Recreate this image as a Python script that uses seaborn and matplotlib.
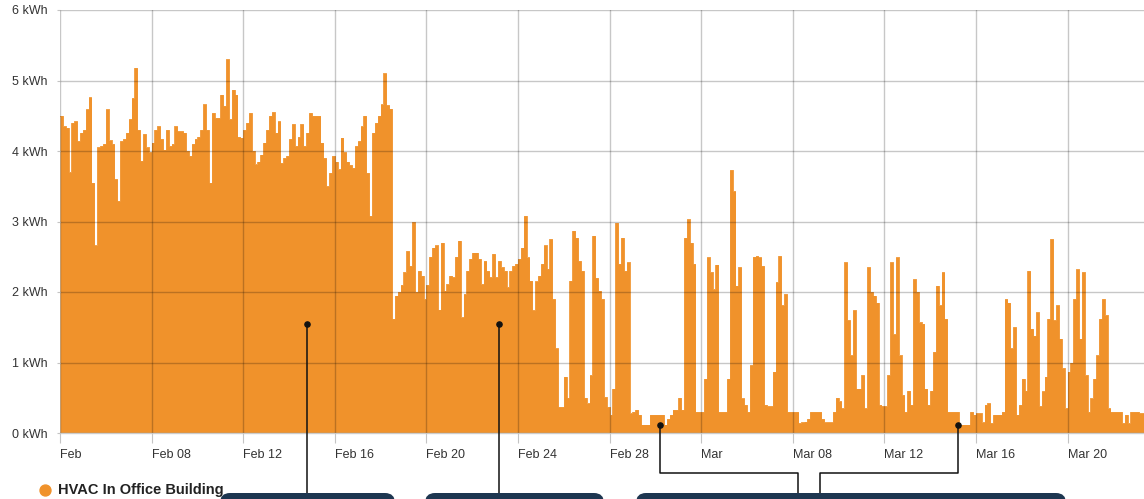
import numpy as np
import pandas as pd
import matplotlib
matplotlib.use("Agg")
import matplotlib.pyplot as plt
from matplotlib.patches import FancyBboxPatch
import seaborn as sns

# hourly-ish HVAC energy, one value per 3 hours (8 per day)
week1 = [  # Feb 04 - Feb 10
    4.5, 4.35, 4.33, 3.7, 4.4, 4.42, 4.14, 4.26,
    4.3, 4.59, 4.76, 3.55, 2.66, 4.05, 4.07, 4.1,
    4.59, 4.15, 4.1, 3.6, 3.29, 4.14, 4.17, 4.26,
    4.45, 4.75, 5.18, 4.3, 3.86, 4.24, 4.05, 3.98,
    4.12, 4.3, 4.35, 4.17, 4.02, 4.3, 4.07, 4.1,
    4.35, 4.28, 4.28, 4.26, 4.0, 3.93, 4.1, 4.17,
    4.2, 4.3, 4.66, 4.3, 3.55, 4.54, 4.47, 4.47,
]
week2 = [  # Feb 11 - Feb 17
    4.8, 4.64, 5.3, 4.45, 4.87, 4.8, 4.2, 4.19,
    4.3, 4.4, 4.54, 4.0, 3.81, 3.85, 3.95, 4.12,
    4.3, 4.5, 4.55, 4.26, 4.42, 3.83, 3.9, 3.93,
    4.17, 4.38, 4.07, 4.2, 4.38, 4.07, 4.26, 4.54,
    4.5, 4.5, 4.5, 4.12, 3.9, 3.5, 3.69, 3.93,
    3.85, 3.74, 4.19, 3.98, 3.85, 3.8, 3.76, 4.07,
    4.14, 4.35, 4.5, 3.69, 3.08, 4.26, 4.4, 4.5,
]
week3 = [  # Feb 18 - Feb 24
    4.66, 5.1, 4.65, 4.6, 1.62, 1.95, 2.0, 2.1,
    2.28, 2.58, 2.37, 2.99, 2.0, 2.3, 2.23, 1.9,
    2.1, 2.5, 2.63, 2.66, 1.75, 2.7, 2.02, 2.11,
    2.23, 2.21, 2.5, 2.73, 1.64, 1.97, 2.3, 2.47,
    2.56, 2.56, 2.47, 2.11, 2.44, 2.3, 2.21, 2.54,
    2.21, 2.44, 2.35, 2.3, 2.07, 2.3, 2.37, 2.4,
    2.47, 2.63, 3.08, 2.49, 2.16, 1.74, 2.15, 2.23,
]
week4 = [  # Feb 25 - Mar 03
    2.4, 2.66, 2.33, 2.75, 1.9, 1.2, 0.37, 0.37,
    0.8, 0.5, 2.16, 2.87, 2.77, 2.44, 2.3, 0.5,
    0.42, 0.82, 2.8, 2.2, 2.02, 1.9, 0.51, 0.37,
    0.26, 0.63, 2.98, 2.4, 2.77, 2.3, 2.42, 0.28,
    0.3, 0.33, 0.26, 0.12, 0.12, 0.12, 0.26, 0.26,
    0.26, 0.26, 0.26, 0.12, 0.2, 0.26, 0.33, 0.33,
    0.5, 0.33, 2.77, 3.03, 2.7, 2.4, 0.3, 0.3,
]
week5 = [  # Mar 04 - Mar 10
    0.3, 0.77, 2.49, 2.28, 2.04, 2.39, 0.3, 0.3,
    0.3, 0.77, 3.73, 3.43, 2.09, 2.35, 0.49, 0.4,
    0.3, 0.96, 2.5, 2.51, 2.49, 2.37, 0.4, 0.38,
    0.38, 0.87, 2.14, 2.51, 1.81, 1.97, 0.3, 0.3,
    0.3, 0.3, 0.14, 0.15, 0.16, 0.2, 0.3, 0.3,
    0.3, 0.3, 0.2, 0.15, 0.15, 0.15, 0.3, 0.5,
    0.45, 0.35, 2.42, 1.6, 1.1, 1.74, 0.63, 0.63,
]
week6 = [  # Mar 11 - Mar 17
    0.82, 0.35, 2.35, 2.0, 1.95, 1.85, 0.4, 0.38,
    0.38, 0.82, 2.42, 1.4, 2.49, 1.1, 0.54, 0.3,
    0.6, 0.4, 2.18, 2.0, 1.57, 1.55, 0.63, 0.4,
    0.6, 1.15, 2.09, 1.81, 2.28, 1.62, 0.3, 0.3,
    0.3, 0.3, 0.12, 0.12, 0.12, 0.12, 0.3, 0.26,
    0.28, 0.28, 0.15, 0.4, 0.42, 0.14, 0.26, 0.26,
    0.26, 0.3, 1.9, 1.85, 1.2, 1.5, 0.26, 0.4,
]
week7 = [  # Mar 18 - Mar 23
    0.77, 0.6, 2.3, 1.48, 1.38, 1.71, 0.38, 0.59,
    0.8, 1.62, 2.75, 1.6, 1.81, 1.34, 0.92, 0.35,
    0.87, 1.0, 1.9, 2.32, 1.34, 2.28, 0.82, 0.3,
    0.49, 0.77, 1.1, 1.62, 1.9, 1.67, 0.35, 0.3,
    0.3, 0.3, 0.3, 0.14, 0.26, 0.14, 0.3, 0.3,
    0.3, 0.28, 0.28,
]

tick_dates = ["2018-02-04", "2018-02-08", "2018-02-12", "2018-02-16", "2018-02-20", "2018-02-24",
              "2018-02-28", "2018-03-04", "2018-03-08", "2018-03-12", "2018-03-16", "2018-03-20"]
tick_labels = ["Feb", "Feb 08", "Feb 12", "Feb 16", "Feb 20", "Feb 24",
               "Feb 28", "Mar", "Mar 08", "Mar 12", "Mar 16", "Mar 20"]
y_ticks = [0, 1, 2, 3, 4, 5, 6]
series_name = "HVAC In Office Building"

ORANGE = "#f0922b"
NAVY = "#1d3650"

kwh = np.array(week1 + week2 + week3 + week4 + week5 + week6 + week7)
start = pd.Timestamp("2018-02-04")
times = pd.date_range(start, periods=len(kwh) + 1, freq="3h")
df = pd.DataFrame({"time": times, "kwh": np.append(kwh, kwh[-1])})

sns.set_theme(style="white")
plt.rcParams["font.family"] = ["Liberation Sans", "DejaVu Sans"]

fig = plt.figure(figsize=(11.44, 4.99), dpi=100)
ax = fig.add_axes([60 / 1144, 66 / 499, 1084 / 1144, 423 / 499])

ax.fill_between(df["time"], df["kwh"], step="post", color=ORANGE, lw=0, zorder=1)
sns.lineplot(data=df, x="time", y="kwh", drawstyle="steps-post", color=ORANGE,
             lw=0.6, ax=ax, zorder=1.5)

ax.set_xlim(start, start + pd.Timedelta(days=47.34))
ax.set_ylim(0, 6)
ax.set_xticks(pd.to_datetime(tick_dates))
ax.set_xticklabels(tick_labels, ha="left")
ax.set_yticks(y_ticks)
ax.set_yticklabels([f"{v} kWh" for v in y_ticks])
ax.set_xlabel("")
ax.set_ylabel("")

ax.set_axisbelow(False)
ax.grid(True, color="black", alpha=0.22, lw=1)
for s in ["top", "right", "left"]:
    ax.spines[s].set_visible(False)
ax.spines["bottom"].set_color("#cccccc")
ax.spines["bottom"].set_linewidth(1)

ax.tick_params(axis="x", length=7.2, width=0.8, color="#c4c4c4", pad=4,
               labelsize=9, labelcolor="#333333", bottom=True)
ax.tick_params(axis="y", length=2.2, width=0.8, color="#c4c4c4", pad=7,
               labelsize=9, labelcolor="#333333", left=True)

# callouts and legend, drawn in pixel space over the whole figure
ov = fig.add_axes([0, 0, 1, 1], zorder=5)
ov.set_xlim(0, 1144)
ov.set_ylim(499, 0)
ov.axis("off")
ov.patch.set_alpha(0)

callout_paths = [
    [(307, 324), (307, 499)],
    [(499, 324), (499, 499)],
    [(660, 425), (660, 473), (798, 473), (798, 499)],
    [(958, 425), (958, 473), (820, 473), (820, 499)],
]
for path in callout_paths:
    xs, ys = zip(*path)
    ov.plot(xs, ys, color="#111111", lw=1.1, zorder=2)
    ov.scatter([xs[0]], [ys[0]], s=14, color="#111111", zorder=3)

callout_boxes = [(220, 395), (425, 604), (636, 1066)]
for x0, x1 in callout_boxes:
    ov.add_patch(FancyBboxPatch((x0, 493), x1 - x0, 40,
                                boxstyle="round,pad=0,rounding_size=10",
                                fc=NAVY, ec="none", zorder=4))

ov.scatter([45], [490], s=62, color=ORANGE, zorder=3)
ov.text(58, 490, series_name, fontsize=10.5, fontweight="bold",
        color="#222222", va="center", ha="left")

fig.savefig("out.png", dpi=100)
